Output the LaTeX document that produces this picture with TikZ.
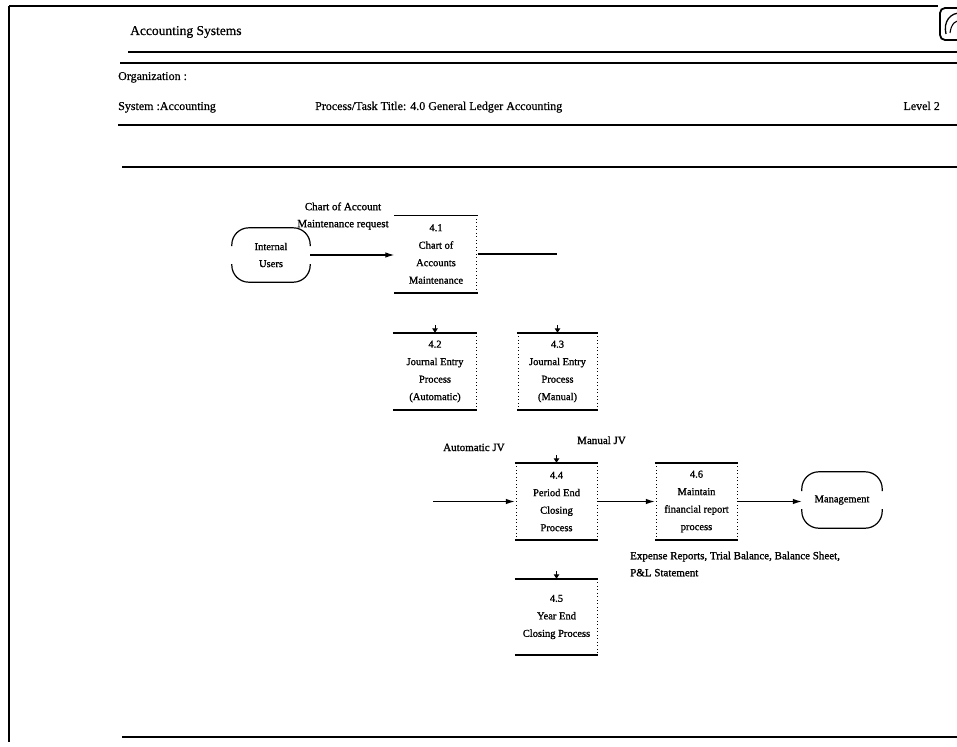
\documentclass[tikz,border=0pt]{standalone}
\usepackage{fontspec}
\setmainfont{Liberation Serif}
\newfontfamily\dkfont{Liberation Serif}[FakeBold=1.2]
\newfontfamily\hdfont{Liberation Serif}[FakeBold=0.6]
\usetikzlibrary{arrows.meta,calc}
\begin{document}
\begin{tikzpicture}[x=1pt,y=-1pt,
  framel/.style={line width=1.3pt},
  hdr/.style={anchor=base west, inner sep=0pt, font=\hdfont\fontsize{12}{14}\selectfont},
  proc/.style={inner sep=0pt, minimum width=83pt, minimum height=77pt, align=center, font=\dkfont\fontsize{10.5}{17.5}\selectfont},
  termshape/.style={inner sep=0pt, minimum width=78pt, minimum height=54pt, align=center, font=\dkfont\fontsize{10.5}{17}\selectfont},
  procbar/.style={line width=1.6pt},
  sidedash/.style={line width=0.9pt, dash pattern=on 1pt off 2.5pt},
  termline/.style={line width=1.2pt, rounded corners=17pt},
  flow/.style={line width=1.1pt, -{Latex[length=9pt,width=5.5pt]}},
  flowline/.style={line width=1.1pt},
  feed/.style={line width=0.9pt, -{Triangle[length=4.5pt,width=5.5pt]}},
  lbl/.style={inner sep=0pt, font=\dkfont\fontsize{11}{17}\selectfont, align=center},
]
\useasboundingbox (0,0) rectangle (957,746);
% frame and header
\draw[framel] (9,6) -- (938,6);
\draw[framel] (9,6) -- (9,742);
\draw[framel] (122,737) -- (957,737);
\draw[framel] (128,52) -- (957,52);
\draw[framel] (120,63) -- (957,63);
\draw[framel] (118,125) -- (957,125);
\draw[framel] (122,167) -- (957,167);
\begin{scope}
\clip (0,0) rectangle (957,746);
\draw[line width=1.8pt, rounded corners=5pt] (940,8) rectangle (972,40);
\draw[line width=1.3pt] (946,34) .. controls (943,22) and (950,12) .. (962,13);
\draw[line width=1.1pt] (950,33) .. controls (951,24) and (956,19) .. (962,21);
\end{scope}
\node[hdr, font=\hdfont\fontsize{13.5}{15}\selectfont] (h1) at (130,35) {Accounting Systems};
\node[hdr] (h2) at (118,80) {Organization :};
\node[hdr] (h3) at (118,110) {System :Accounting};
\node[hdr] (h4) at (315,110) {Process/Task Title: 4.0 General Ledger Accounting};
\node[hdr, anchor=base east] (h5) at (940,110) {Level 2};

% nodes
\node[termshape] (u) at (271,255) {Internal\\Users};
\node[termshape, minimum width=80pt, minimum height=56pt] (m) at (842,500) {Management};
\node[proc] (b41) at (436,254) {4.1\\Chart of\\Accounts\\Maintenance};
\node[proc, minimum width=84pt] (b42) at (435,371.5) {4.2\\Journal Entry\\Process\\(Automatic)};
\node[proc, minimum width=81pt] (b43) at (557.5,371.5) {4.3\\Journal Entry\\Process\\(Manual)};
\node[proc] (b44) at (556.5,501.5) {4.4\\Period End\\Closing\\Process};
\node[proc] (b46) at (696.5,501.5) {4.6\\Maintain\\financial report\\process};
\node[proc, minimum height=76pt] (b45) at (556.5,617) {4.5\\Year End\\Closing Process};

\foreach \b in {b41,b42,b43,b44,b45,b46} {
  \draw[procbar] (\b.north west) -- (\b.north east);
  \draw[procbar] (\b.south west) -- (\b.south east);
  \draw[sidedash] ([xshift=-1pt]\b.north east) -- ([xshift=-1pt]\b.south east);
}
\foreach \b in {b43,b44,b46} {
  \draw[sidedash] ([xshift=2pt]\b.north west) -- ([xshift=2pt]\b.south west);
}
\foreach \t in {u,m} {
  \draw[termline] ($(\t.west)+(0,-9)$) |- (\t.north) -| ($(\t.east)+(0,-9)$);
  \draw[termline] ($(\t.west)+(0,9)$) |- (\t.south) -| ($(\t.east)+(0,9)$);
}

% connectors
\draw[flow] (u.east) -- (b41.west |- u.east);
\coordinate (j41) at (557,254);
\draw[flowline] (b41.east) -- (j41);
\coordinate (ajv) at (433,501.5);
\draw[flow] (ajv) -- (b44.west);
\draw[flow] (b44.east) -- (b46.west);
\draw[flow] (b46.east) -- (m.west |- b46.east);
\foreach \b in {b42,b43,b44,b45} {
  \coordinate (f\b) at ($(\b.north)+(0,-8)$);
  \draw[feed] (f\b) -- (\b.north);
}

% labels
\node[lbl] (lcam) at (343,216) {Chart of Account\\Maintenance request};
\node[lbl, anchor=base west] (lajv) at (443,451) {Automatic JV};
\node[lbl, anchor=base west] (lmjv) at (577,444) {Manual JV};
\node[lbl, anchor=west, align=left] (lrep) at (630,564) {Expense Reports, Trial Balance, Balance Sheet,\\P\&L Statement};
\end{tikzpicture}
\end{document}
